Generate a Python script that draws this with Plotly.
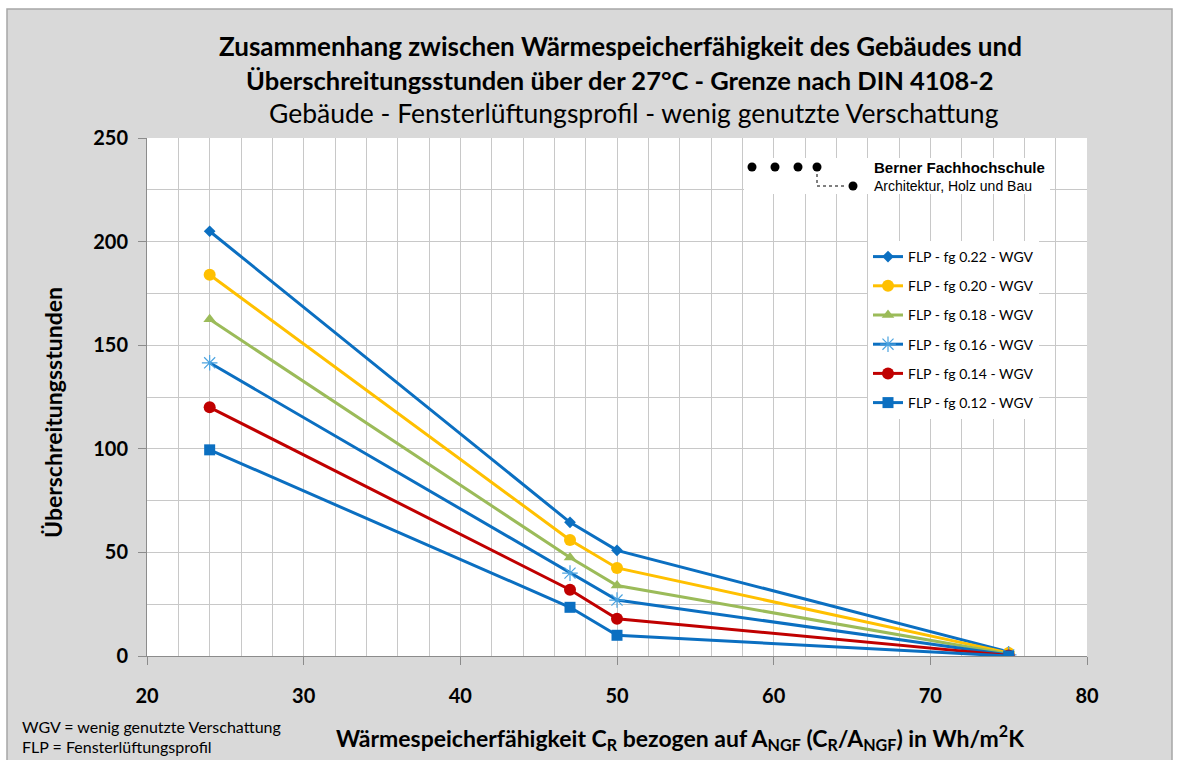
import plotly.graph_objects as go

# Wärmespeicherfähigkeit C_R / A_NGF in Wh/m²K
x_cr = [24, 47, 50, 75]

# Überschreitungsstunden > 27 °C per Gesamtenergiedurchlassgrad fg
series_names = [
    "FLP - fg 0.22 - WGV",
    "FLP - fg 0.20 - WGV",
    "FLP - fg 0.18 - WGV",
    "FLP - fg 0.16 - WGV",
    "FLP - fg 0.14 - WGV",
    "FLP - fg 0.12 - WGV",
]
fg_022 = [205, 64.5, 51, 2]
fg_020 = [184, 56, 42.5, 1.5]
fg_018 = [162.5, 47.5, 34, 1]
fg_016 = [141.5, 40, 27, 0.5]
fg_014 = [120, 32, 18, 0.3]
fg_012 = [99.5, 23.5, 10, 0]

x_ticks = [20, 30, 40, 50, 60, 70, 80]
y_ticks = [0, 50, 100, 150, 200, 250]

FONT = "Lato"
series_values = [fg_022, fg_020, fg_018, fg_016, fg_014, fg_012]
line_colors = ["#0B6FC1", "#FFC000", "#9BBB59", "#0B6FC1", "#C00000", "#0B6FC1"]
marker_colors = ["#0B6FC1", "#FFC000", "#9BBB59", "#4BA3E0", "#C00000", "#0B6FC1"]
symbols = ["diamond", "circle", "triangle-up", "asterisk-open", "circle", "square"]
sizes = [9, 12, 11, 13, 12, 11]

fig = go.Figure()
for name, vals, lc, mc, sym, sz in zip(series_names, series_values, line_colors,
                                        marker_colors, symbols, sizes):
    marker = dict(symbol=sym, size=sz, color=mc)
    if sym == "asterisk-open":
        marker["line"] = dict(color=mc, width=1.2)
    fig.add_trace(go.Scatter(
        x=x_cr, y=vals, name=name, mode="lines+markers",
        line=dict(color=lc, width=3), marker=marker, legendgroup=name,
    ))

L, R, T, B = 147, 1087, 138, 656
W, H = 1178, 760


def px(xp):
    return (xp - L) / (R - L)


def py(yp):
    return (B - yp) / (B - T)


grid = "#C8C8C8"
axis_line = "#8C8C8C"

fig.update_layout(
    width=W, height=H,
    margin=dict(l=L, r=W - R, t=T, b=H - B),
    paper_bgcolor="white",
    plot_bgcolor="white",
    font=dict(family=FONT, color="#000000"),
    showlegend=True,
    legend=dict(
        x=px(868), y=py(241), xanchor="left", yanchor="top",
        bgcolor="white", borderwidth=0,
        font=dict(family=FONT, size=14, color="#000000"),
        tracegroupgap=8, itemwidth=30,
    ),
    xaxis=dict(
        range=[20, 80], tickvals=x_ticks, ticktext=[str(v) for v in x_ticks],
        showgrid=True, gridcolor=grid, gridwidth=1,
        minor=dict(dtick=2, showgrid=True, gridcolor=grid, gridwidth=1),
        showline=True, linecolor=axis_line, linewidth=1,
        ticks="outside", ticklen=8, tickcolor=axis_line,
        tickfont=dict(family=FONT, size=20, color="#000000", weight="bold"),
        ticklabelstandoff=14, zeroline=False,
    ),
    yaxis=dict(
        range=[0, 250], tickvals=y_ticks, ticktext=[str(v) for v in y_ticks],
        showgrid=True, gridcolor=grid, gridwidth=1,
        minor=dict(dtick=25, showgrid=True, gridcolor=grid, gridwidth=1),
        showline=True, linecolor=axis_line, linewidth=1,
        ticks="outside", ticklen=8, tickcolor=axis_line,
        tickfont=dict(family=FONT, size=20, color="#000000", weight="bold"),
        ticklabelstandoff=6, zeroline=False,
    ),
)

# Grey chart background with frame, white plot area on top of it
fig.add_shape(type="rect", xref="paper", yref="paper",
              x0=px(7), x1=px(1172), y0=py(762), y1=py(9),
              fillcolor="#D9D9D9", line=dict(color="#A6A6A6", width=1.5),
              layer="below")
fig.add_shape(type="rect", xref="paper", yref="paper",
              x0=0, x1=1, y0=0, y1=1,
              fillcolor="white", line=dict(width=0), layer="below")

# Logo block: Berner Fachhochschule
fig.add_shape(type="rect", xref="paper", yref="paper",
              x0=px(744), x1=px(1050), y0=py(194), y1=py(158),
              fillcolor="white", line=dict(width=0), layer="above")
for cx, cy in [(752, 167), (775, 167), (798, 167), (817, 167), (853, 186)]:
    r = 4.5
    fig.add_shape(type="circle", xref="paper", yref="paper",
                  x0=px(cx - r), x1=px(cx + r), y0=py(cy + r), y1=py(cy - r),
                  fillcolor="black", line=dict(width=0), layer="above")
fig.add_shape(type="path", xref="paper", yref="paper",
              path=f"M {px(817)} {py(174)} L {px(817)} {py(186)} L {px(846)} {py(186)}",
              line=dict(color="black", width=1, dash="dot"), layer="above")
fig.add_annotation(x=px(872), y=py(167), xref="paper", yref="paper",
                   text="<b>Berner Fachhochschule</b>", showarrow=False,
                   xanchor="left", yanchor="middle",
                   font=dict(family="Liberation Sans", size=15, color="black"))
fig.add_annotation(x=px(872), y=py(186), xref="paper", yref="paper",
                   text="Architektur, Holz und Bau", showarrow=False,
                   xanchor="left", yanchor="middle",
                   font=dict(family="Liberation Sans", size=14, color="black"))

# Titles
fig.add_annotation(x=px(620), y=py(46), xref="paper", yref="paper",
                   text="<b>Zusammenhang zwischen Wärmespeicherfähigkeit des Gebäudes und</b>",
                   showarrow=False, xanchor="center", yanchor="middle",
                   font=dict(family=FONT, size=26, color="black"))
fig.add_annotation(x=px(620), y=py(80), xref="paper", yref="paper",
                   text="<b>Überschreitungsstunden über der 27°C - Grenze nach DIN 4108-2</b>",
                   showarrow=False, xanchor="center", yanchor="middle",
                   font=dict(family=FONT, size=25.5, color="black"))
fig.add_annotation(x=px(634), y=py(113), xref="paper", yref="paper",
                   text="Gebäude - Fensterlüftungsprofil - wenig genutzte Verschattung",
                   showarrow=False, xanchor="center", yanchor="middle",
                   font=dict(family=FONT, size=26.5, color="black"))

# Axis titles
fig.add_annotation(x=px(680), y=py(737), xref="paper", yref="paper",
                   text="<b>Wärmespeicherfähigkeit C<sub>R</sub> bezogen auf A<sub>NGF</sub> "
                        "(C<sub>R</sub>/A<sub>NGF</sub>) in Wh/m<sup>2</sup>K</b>",
                   showarrow=False, xanchor="center", yanchor="middle",
                   font=dict(family=FONT, size=23, color="black"))
fig.add_annotation(x=px(53), y=py(413), xref="paper", yref="paper",
                   text="<b>Überschreitungsstunden</b>", textangle=-90,
                   showarrow=False, xanchor="center", yanchor="middle",
                   font=dict(family=FONT, size=23, color="black"))

# Abbreviation notes
fig.add_annotation(x=px(20), y=py(726), xref="paper", yref="paper",
                   text="WGV = wenig genutzte Verschattung", showarrow=False,
                   xanchor="left", yanchor="middle",
                   font=dict(family=FONT, size=16, color="black"))
fig.add_annotation(x=px(20), y=py(746), xref="paper", yref="paper",
                   text="FLP = Fensterlüftungsprofil", showarrow=False,
                   xanchor="left", yanchor="middle",
                   font=dict(family=FONT, size=16, color="black"))

fig.write_html("out.html")
